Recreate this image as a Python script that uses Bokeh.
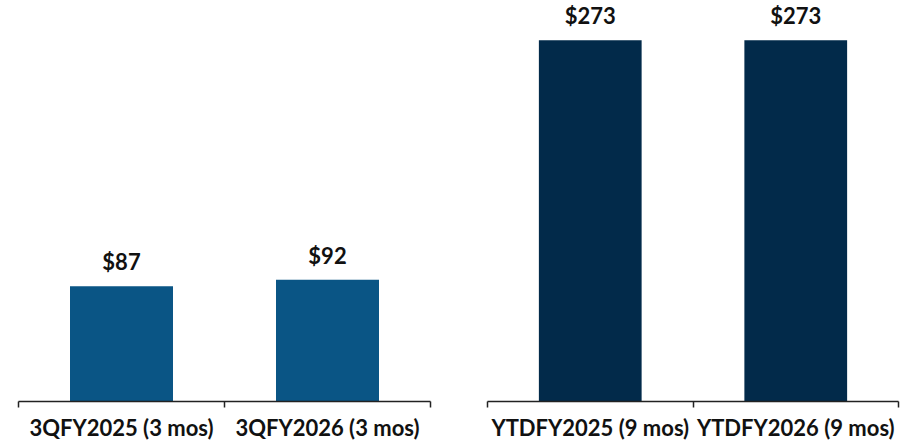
from bokeh.plotting import figure
from bokeh.layouts import row
from bokeh.models import Range1d, FixedTicker, ColumnDataSource
from bokeh.core.properties import value
from bokeh.embed import file_html
from bokeh.resources import INLINE

quarter_labels = ["3QFY2025 (3 mos)", "3QFY2026 (3 mos)"]
quarter_values = [87, 92]
ytd_labels = ["YTDFY2025 (9 mos)", "YTDFY2026 (9 mos)"]
ytd_values = [273, 273]

Y_MAX = 303
FONT = "Lato"


def panel(labels, values, color, border_left, inner_w, border_right):
    n = len(labels)
    p = figure(width=border_left + inner_w + border_right, height=443,
               x_range=Range1d(0, n), y_range=Range1d(0, Y_MAX),
               output_backend="svg", toolbar_location=None,
               y_axis_location=None,
               min_border_left=border_left, min_border_right=border_right,
               min_border_top=0, min_border_bottom=30)
    xs = [i + 0.5 for i in range(n)]
    src = ColumnDataSource(dict(x=xs, top=values,
                                label=[f"${v}" for v in values]))
    p.vbar(x="x", top="top", bottom=0, width=0.5, fill_color=color,
           line_color=None, source=src)
    p.text(x="x", y="top", text="label", source=src, text_align="center",
           text_baseline="bottom", y_offset=-11, text_font=value(FONT),
           text_font_style="bold", text_font_size="22px", text_color="#111111")
    p.grid.visible = False
    p.outline_line_color = None
    p.background_fill_color = None
    p.border_fill_color = None
    ax = p.xaxis[0]
    ax.ticker = FixedTicker(ticks=xs, minor_ticks=list(range(n + 1)))
    ax.major_label_overrides = {x: l for x, l in zip(xs, labels)}
    ax.major_tick_line_color = None
    ax.major_tick_in = 0
    ax.major_tick_out = 0
    ax.minor_tick_line_color = "#222222"
    ax.minor_tick_line_width = 1.5
    ax.minor_tick_in = 0
    ax.minor_tick_out = 6
    ax.axis_line_color = "#222222"
    ax.axis_line_width = 1.5
    ax.major_label_standoff = 6
    ax.major_label_text_font = FONT
    ax.major_label_text_font_style = "bold"
    ax.major_label_text_font_size = "22px"
    ax.major_label_text_color = "#111111"
    return p


left = panel(quarter_labels, quarter_values, "#0A5585", 18, 412, 28)
right = panel(ytd_labels, ytd_values, "#022A4A", 29, 411, 8)
layout = row(left, right)

open("out.html", "w").write(file_html(layout, INLINE))
